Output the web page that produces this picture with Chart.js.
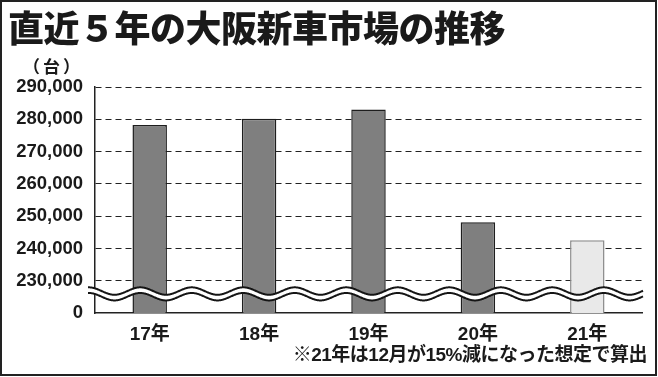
<!DOCTYPE html>
<html lang="ja">
<head>
<meta charset="utf-8">
<title>直近５年の大阪新車市場の推移</title>
<script src="https://cdn.jsdelivr.net/npm/chart.js@4"></script>
<style>
  html, body { margin: 0; padding: 0; background: #fff; }
  #stage { position: relative; width: 658px; height: 377px; overflow: hidden; }
  #chart { position: absolute; left: 0; top: 0; }
  #frame { position: absolute; left: 0; top: 0; width: 657px; height: 376px;
           box-sizing: border-box; border: 2px solid #222; }
  .txt { position: absolute; color: #1a1a1a; line-height: 1; white-space: nowrap;
         text-spacing-trim: space-all;
         font-family: "Noto Sans CJK JP", "Noto Sans", sans-serif; }
  #title { left: 8px; top: 8px; font-size: 36px; font-weight: 900; letter-spacing: -0.5px; }
  #unit { left: 23px; top: 57px; font-size: 17px; font-weight: 700; letter-spacing: 3px; }
  #note { right: 11px; top: 345px; font-size: 19px; font-weight: 700; letter-spacing: -0.5px;
          font-family: "Liberation Sans", "Noto Sans CJK JP", sans-serif; }
</style>
</head>
<body>
<div id="stage">
  <canvas id="chart" width="658" height="377"></canvas>
  <div id="frame"></div>
  <div class="txt" id="title">直近５年の大阪新車市場の推移</div>
  <div class="txt" id="unit">（台）</div>
  <div class="txt" id="note">※21年は12月が15%減になった想定で算出</div>
</div>
<script>
// dati
const anni = ["17年", "18年", "19年", "20年", "21年"];
const vendite = [278200, 280200, 283000, 248100, 242500];
const coloriBarre = ["#7f7f7f", "#7f7f7f", "#7f7f7f", "#7f7f7f", "#e9e9e9"];
const bordiBarre = ["#1e1e1e", "#1e1e1e", "#1e1e1e", "#1e1e1e", "#8c8c8c"];

// asse spezzato: il tick più basso (220,000) viene mostrato come "0"
const assePiede = 220000;
const asseCima = 290000;
const passo = 10000;

const fontNumeri = "'Liberation Sans', 'Noto Sans CJK JP', sans-serif";

// linea ondulata che segna l'interruzione dell'asse
const ondaRottura = {
    id: "ondaRottura",
    afterDraw(chart) {
        const { ctx, chartArea, scales } = chart;
        const y = scales.y;
        const alto = y.getPixelForValue(assePiede + passo);
        const h = y.getPixelForValue(assePiede) - alto;
        const c1 = alto + h * 0.32;
        const c2 = alto + h * 0.495;
        const amp = h * 0.115;
        const periodo = 51.5;
        const fase = chartArea.left + 19.5;
        const x0 = chartArea.left - 7;
        const x1 = chartArea.right + 1;
        const onda = (x, c) => c + amp * Math.cos(2 * Math.PI * (x - fase) / periodo);

        ctx.save();
        ctx.beginPath();
        for (let x = x0; x <= x1; x += 0.5) {
            if (x === x0) ctx.moveTo(x, onda(x, c1));
            else ctx.lineTo(x, onda(x, c1));
        }
        for (let x = x1; x >= x0; x -= 0.5) {
            ctx.lineTo(x, onda(x, c2));
        }
        ctx.closePath();
        ctx.fillStyle = "#fff";
        ctx.fill();

        ctx.lineWidth = 2;
        ctx.strokeStyle = "#151515";
        [c1, c2].forEach(function (c) {
            ctx.beginPath();
            for (let x = x0; x <= x1; x += 0.5) {
                if (x === x0) ctx.moveTo(x, onda(x, c));
                else ctx.lineTo(x, onda(x, c));
            }
            ctx.stroke();
        });
        ctx.restore();
    }
};

const grafico = new Chart(document.getElementById("chart"), {
    type: "bar",
    data: {
        labels: anni,
        datasets: [{
            data: vendite,
            backgroundColor: coloriBarre,
            borderColor: bordiBarre,
            borderWidth: 1.5,
            borderSkipped: false,
            categoryPercentage: 1,
            barPercentage: 0.315,
        }],
    },
    options: {
        responsive: false,
        devicePixelRatio: 1,
        animation: false,
        layout: { padding: { left: 0, right: 16, top: 87, bottom: 0 } },
        plugins: {
            legend: { display: false },
            tooltip: { enabled: false },
        },
        scales: {
            x: {
                grid: { display: false },
                border: { display: true, color: "#222", width: 1.5 },
                ticks: {
                    color: "#1a1a1a",
                    padding: 2,
                    font: { family: fontNumeri, size: 19, weight: "bold" },
                },
                afterFit: function (scale) { scale.height = 64; },
            },
            y: {
                min: assePiede,
                max: asseCima,
                border: { display: true, color: "#222", width: 1.5, dash: [6, 4] },
                grid: {
                    drawTicks: false,
                    lineWidth: 1,
                    color: function (ctx) {
                        return ctx.tick && ctx.tick.value === assePiede ? "rgba(0,0,0,0)" : "#222";
                    },
                },
                ticks: {
                    stepSize: passo,
                    padding: 12,
                    color: "#1a1a1a",
                    font: { family: fontNumeri, size: 18.5, weight: "bold" },
                    callback: function (v) {
                        return v === assePiede ? "0" : v.toLocaleString("en-US");
                    },
                },
                afterFit: function (scale) { scale.width = 95; },
            },
        },
    },
    plugins: [ondaRottura],
});
</script>
</body>
</html>
